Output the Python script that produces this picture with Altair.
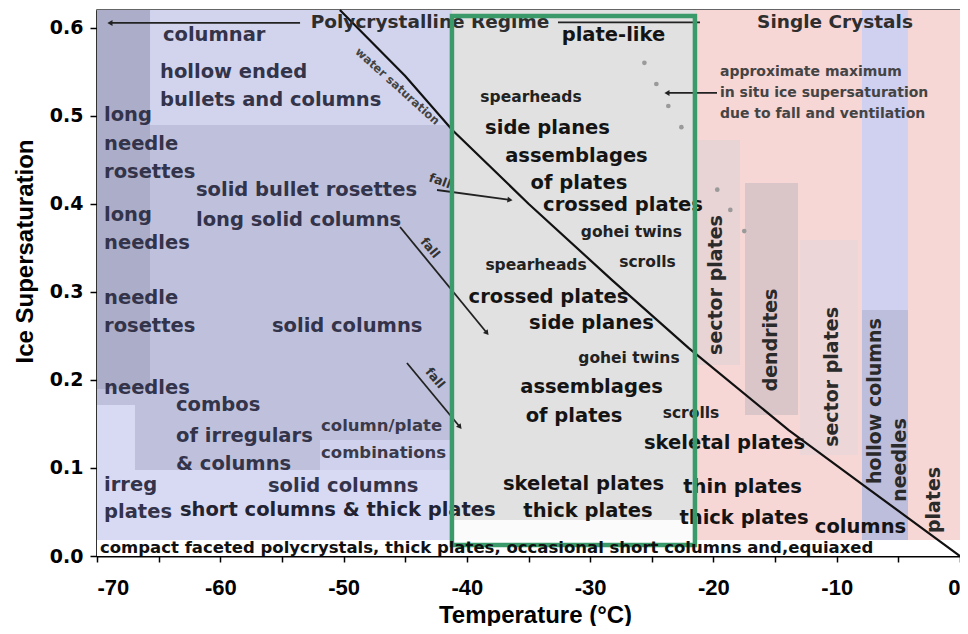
import altair as alt
import pandas as pd

# ---------------------------------------------------------------- data
# water-saturation curve (ice supersaturation at water saturation)
ws_temp = [-50.3, -45.0, -41.2, -35.0, -28.2, -22.0, -13.9, -7.9, 0.0]
ws_sup = [0.620, 0.545, 0.484, 0.400, 0.313, 0.236, 0.143, 0.081, 0.0]

# approximate maximum in-situ supersaturation (dotted points)
max_temp = [-25.60, -24.63, -23.66, -22.60, -19.69, -18.63, -17.50]
max_sup = [0.560, 0.536, 0.511, 0.487, 0.416, 0.393, 0.369]

# shaded habit regions (temperature range, supersaturation range)
region_name = ["poly_base", "poly_top", "poly_strip", "poly_low_a", "poly_low_b",
               "poly_low_c", "single", "sector_a", "dendrite", "sector_b",
               "blue_band", "blue_gray", "base_band"]
region_t0 = [-70, -65.70, -70, -70, -70, -51.91, -21.50, -21.50, -17.44, -12.98, -7.95, -7.95, -70]
region_t1 = [-41.21, -41.21, -65.70, -66.92, -41.21, -41.21, 0, -17.85, -13.14, -8.28, -4.22, -4.22, 0]
region_s0 = [0.0182, 0.4894, 0.1896, 0.0182, 0.0182, 0.0977, 0.0182, 0.2169, 0.1601, 0.1147, 0.0182, 0.0182, 0.0]
region_s1 = [0.62, 0.62, 0.62, 0.1715, 0.0977, 0.1317, 0.62, 0.4724, 0.4236, 0.3588, 0.62, 0.2794, 0.0182]

# the highlighted (green-framed) temperature band
box_name = ["box_white", "box_fill"]
box_t0 = [-41.21, -41.21]
box_t1 = [-21.50, -21.50]
box_s0 = [0.0182, 0.0409]
box_s1 = [0.0409, 0.62]
frame_t0, frame_t1, frame_s0, frame_s1 = [-41.21], [-21.50], [0.0125], [0.6132]

# labels in the polycrystalline regime
left_text = ["columnar", "hollow ended", "bullets and columns", "long", "needle", "rosettes",
             "solid bullet rosettes", "long", "long solid columns", "needles", "needle",
             "rosettes", "solid columns", "needles", "combos", "of irregulars", "& columns",
             "irreg", "solid columns", "plates"]
left_temp = [-64.65, -64.89, -64.89, -69.43, -69.43, -69.43, -61.97, -69.43, -61.97, -69.43,
             -69.43, -69.43, -55.81, -69.43, -63.59, -63.59, -63.59, -69.43, -56.13, -69.43]
left_sup = [0.5916, 0.5496, 0.5178, 0.5008, 0.4679, 0.4361, 0.4156, 0.3872, 0.3816, 0.3554,
            0.2930, 0.2612, 0.2612, 0.1908, 0.1715, 0.1363, 0.1045, 0.0806, 0.0795, 0.0500]

under_text = ["column/plate", "combinations"]
under_temp = [-51.83, -51.83]
under_sup = [0.1476, 0.1170]

over_text = ["short columns & thick plates"]
over_temp = [-63.27]
over_sup = [0.0522]

# large labels (plate regime / single crystals)
big_text = ["plate-like", "side planes", "assemblages", "of plates", "crossed plates",
            "crossed plates", "side planes", "assemblages", "of plates", "skeletal plates",
            "skeletal plates", "thin plates", "thick plates", "thick plates", "columns"]
big_temp = [-28.11, -33.46, -31.11, -30.91, -27.34, -33.38, -29.89, -29.89, -31.31, -19.10,
            -30.54, -17.64, -30.18, -17.52, -8.07]
big_sup = [0.5916, 0.4860, 0.4542, 0.4235, 0.3990, 0.2941, 0.2646, 0.1919, 0.1590, 0.1283,
           0.0818, 0.0784, 0.0511, 0.0432, 0.0325]

small_text = ["spearheads", "gohei twins", "spearheads", "scrolls", "gohei twins", "scrolls"]
small_temp = [-34.80, -26.65, -34.39, -25.35, -26.85, -21.82]
small_sup = [0.5212, 0.3680, 0.3305, 0.3339, 0.2248, 0.1624]

vert_text = ["sector plates", "dendrites", "sector plates", "hollow columns", "needles", "plates"]
vert_temp = [-19.79, -15.29, -10.38, -6.86, -4.87, -2.11]
vert_sup = [0.3077, 0.2453, 0.2033, 0.1760, 0.1090, 0.0636]

head_text = ["Polycrystalline Regime", "Single Crystals"]
head_temp = [-42.99, -10.14]
head_sup = [0.6064, 0.6064]

note_text = ["approximate maximum", "in situ ice supersaturation", "due to fall and ventilation"]
note_temp = [-19.47, -19.47, -19.47]
note_sup = [0.5496, 0.5258, 0.5019]

base_text = ["compact faceted polycrystals, thick plates, occasional short columns and,equiaxed"]
base_temp = [-69.76]
base_sup = [0.0090]

ws_label_text = ["water saturation"]
ws_label_temp = [-45.67]
ws_label_sup = [0.5326]

fall_text = ["fall", "fall", "fall"]
fall_temp = [-42.18, -42.99, -42.58]
fall_sup = [0.4258, 0.3498, 0.2021]

# arrows: fall trajectories, regime markers, pointer to max curve
seg_t0 = [-42.42, -45.42, -44.86, -68.95, -32.61, -23.77]
seg_s0 = [0.4156, 0.3736, 0.2192, 0.6053, 0.6060, 0.5258]
seg_t1 = [-36.50, -38.37, -40.56, -53.53, -21.09, -19.71]
seg_s1 = [0.4043, 0.2532, 0.1465, 0.6053, 0.6060, 0.5258]

head_pt_temp = [-36.50, -38.37, -40.56, -68.95, -23.77]
head_pt_sup = [0.4043, 0.2532, 0.1465, 0.6053, 0.5258]

# ---------------------------------------------------------------- styles
region_colors = {
    "poly_base": "#bfc1dc", "poly_top": "#d2d4ee", "poly_strip": "#acaec9",
    "poly_low_a": "#d8daf4", "poly_low_b": "#d8daf4", "poly_low_c": "#cfd1ed",
    "single": "#f7d6d6", "sector_a": "#e8d3d5", "dendrite": "#dac6c8",
    "sector_b": "#ecd6d8", "blue_band": "#d0d1f1", "blue_gray": "#bdbedc",
    "base_band": "#ffffff", "box_white": "#fbfbfb", "box_fill": "#e1e1e1",
}
arrow_angles = [98, 141, 141, 270, 270]
fall_angles = [20, 50, 50]
FONT = "DejaVu Sans"

xs = alt.Scale(domain=[-70, 0], nice=False, zero=False)
ys = alt.Scale(domain=[0, 0.62], nice=False, zero=False)

x_axis = alt.Axis(
    values=list(range(-70, 1, 5)),
    labelExpr="datum.value % 10 == 0 ? toString(datum.value) : ''",
    title="Temperature (°C)", grid=False,
    labelFont="Liberation Sans", labelFontSize=22, labelFontWeight="bold", labelColor="black",
    titleFont="Liberation Sans", titleFontSize=24, titleFontWeight="bold", titleColor="black",
    titleX=438, titleY=59, titleAlign="center", titleBaseline="middle",
    tickSize=6, tickWidth=1.5, tickColor="black", domainColor="black", domainWidth=2,
    labelPadding=15,
)
y_axis = alt.Axis(
    values=[0, 0.1, 0.2, 0.3, 0.4, 0.5, 0.6],
    labelExpr="format(datum.value, '.1f')",
    title="Ice Supersaturation", grid=False,
    labelFont=FONT, labelFontSize=19, labelFontWeight="bold", labelColor="black",
    titleFont="Liberation Sans", titleFontSize=24, titleFontWeight="bold", titleColor="black",
    titleX=-72, titleY=241, titleAngle=270, titleAlign="center", titleBaseline="middle",
    tickSize=7, tickWidth=1.5, tickColor="black", domainColor="black", domainWidth=2,
    labelPadding=7,
)


def X(f):
    return alt.X(f, type="quantitative", scale=xs, axis=x_axis)


def Y(f):
    return alt.Y(f, type="quantitative", scale=ys, axis=y_axis)


def rect_layer(names, t0, t1, s0, s1):
    df = pd.DataFrame({"name": names, "t": t0, "t1": t1, "s": s0, "s1": s1})
    return alt.Chart(df).mark_rect().encode(
        x=X("t"), x2="t1", y=Y("s"), y2="s1",
        color=alt.Color("name:N", legend=None,
                        scale=alt.Scale(domain=list(region_colors.keys()),
                                        range=list(region_colors.values()))),
    )


def text_layer(text, t, s, **mk):
    df = pd.DataFrame({"label": text, "t": t, "s": s})
    opts = dict(font=FONT, fontWeight="bold", baseline="middle")
    opts.update(mk)
    return alt.Chart(df).mark_text(**opts).encode(x=X("t"), y=Y("s"), text="label:N")


regions = rect_layer(region_name, region_t0, region_t1, region_s0, region_s1)
under = text_layer(under_text, under_temp, under_sup, align="left", fontSize=16.5, color="#3a3a4a")
box = rect_layer(box_name, box_t0, box_t1, box_s0, box_s1)
left = text_layer(left_text, left_temp, left_sup, align="left", fontSize=19.5, color="#33334a")
over = text_layer(over_text, over_temp, over_sup, align="left", fontSize=19.5, color="#222230")

ws_df = pd.DataFrame({"t": ws_temp, "s": ws_sup})
ws_line = alt.Chart(ws_df).mark_line(color="#111111", strokeWidth=2.2).encode(x=X("t"), y=Y("s"))

max_df = pd.DataFrame({"t": max_temp, "s": max_sup})
max_pts = alt.Chart(max_df).mark_circle(color="#9a9a9a", size=22, opacity=1).encode(x=X("t"), y=Y("s"))

seg_df = pd.DataFrame({"t": seg_t0, "s": seg_s0, "t1": seg_t1, "s1": seg_s1})
segs = alt.Chart(seg_df).mark_rule(color="#222222", strokeWidth=1.8).encode(
    x=X("t"), y=Y("s"), x2="t1", y2="s1")

hp_df = pd.DataFrame({"t": head_pt_temp, "s": head_pt_sup, "a": arrow_angles})
heads = alt.Chart(hp_df).mark_point(shape="triangle-up", filled=True, color="#222222",
                                    size=35, opacity=1).encode(
    x=X("t"), y=Y("s"), angle=alt.Angle("a:Q", scale=None))

big = text_layer(big_text, big_temp, big_sup, align="center", fontSize=19.5, color="#141414")
small = text_layer(small_text, small_temp, small_sup, align="center", fontSize=15.5, color="#222222")
vert = text_layer(vert_text, vert_temp, vert_sup, align="center", fontSize=19, color="#2a2a2a", angle=270)
heads_txt = text_layer(head_text, head_temp, head_sup, align="center", fontSize=18.5, color="#2e2e2e")
notes = text_layer(note_text, note_temp, note_sup, align="left", fontSize=14, color="#444444")
base = text_layer(base_text, base_temp, base_sup, align="left", fontSize=16.5, color="#111111")
ws_lab = text_layer(ws_label_text, ws_label_temp, ws_label_sup, align="center", fontSize=11.5,
                    color="#444444", angle=42)

fall_df = pd.DataFrame({"label": fall_text, "t": fall_temp, "s": fall_sup, "a": fall_angles})
fall_lab = alt.Chart(fall_df).mark_text(font=FONT, fontWeight="bold", fontSize=12.5,
                                        color="#333333", align="center", baseline="middle").encode(
    x=X("t"), y=Y("s"), text="label:N", angle=alt.Angle("a:Q", scale=None))

frame_df = pd.DataFrame({"t": frame_t0, "t1": frame_t1, "s": frame_s0, "s1": frame_s1})
frame = alt.Chart(frame_df).mark_rect(fillOpacity=0, stroke="#3a9a6a", strokeWidth=4.5).encode(
    x=X("t"), x2="t1", y=Y("s"), y2="s1")

chart = alt.layer(
    regions, under, box, left, ws_line, max_pts, segs, heads,
    big, small, vert, heads_txt, notes, ws_lab, fall_lab, over, frame, base,
).properties(
    width=863, height=546,
    padding={"left": 89, "top": 2, "right": 0, "bottom": 70},
    autosize=alt.AutoSizeParams(type="none"),
).configure_view(stroke="#333333", strokeWidth=1.5)

chart.save("out.html", embed_options={"renderer": "svg", "actions": False})
